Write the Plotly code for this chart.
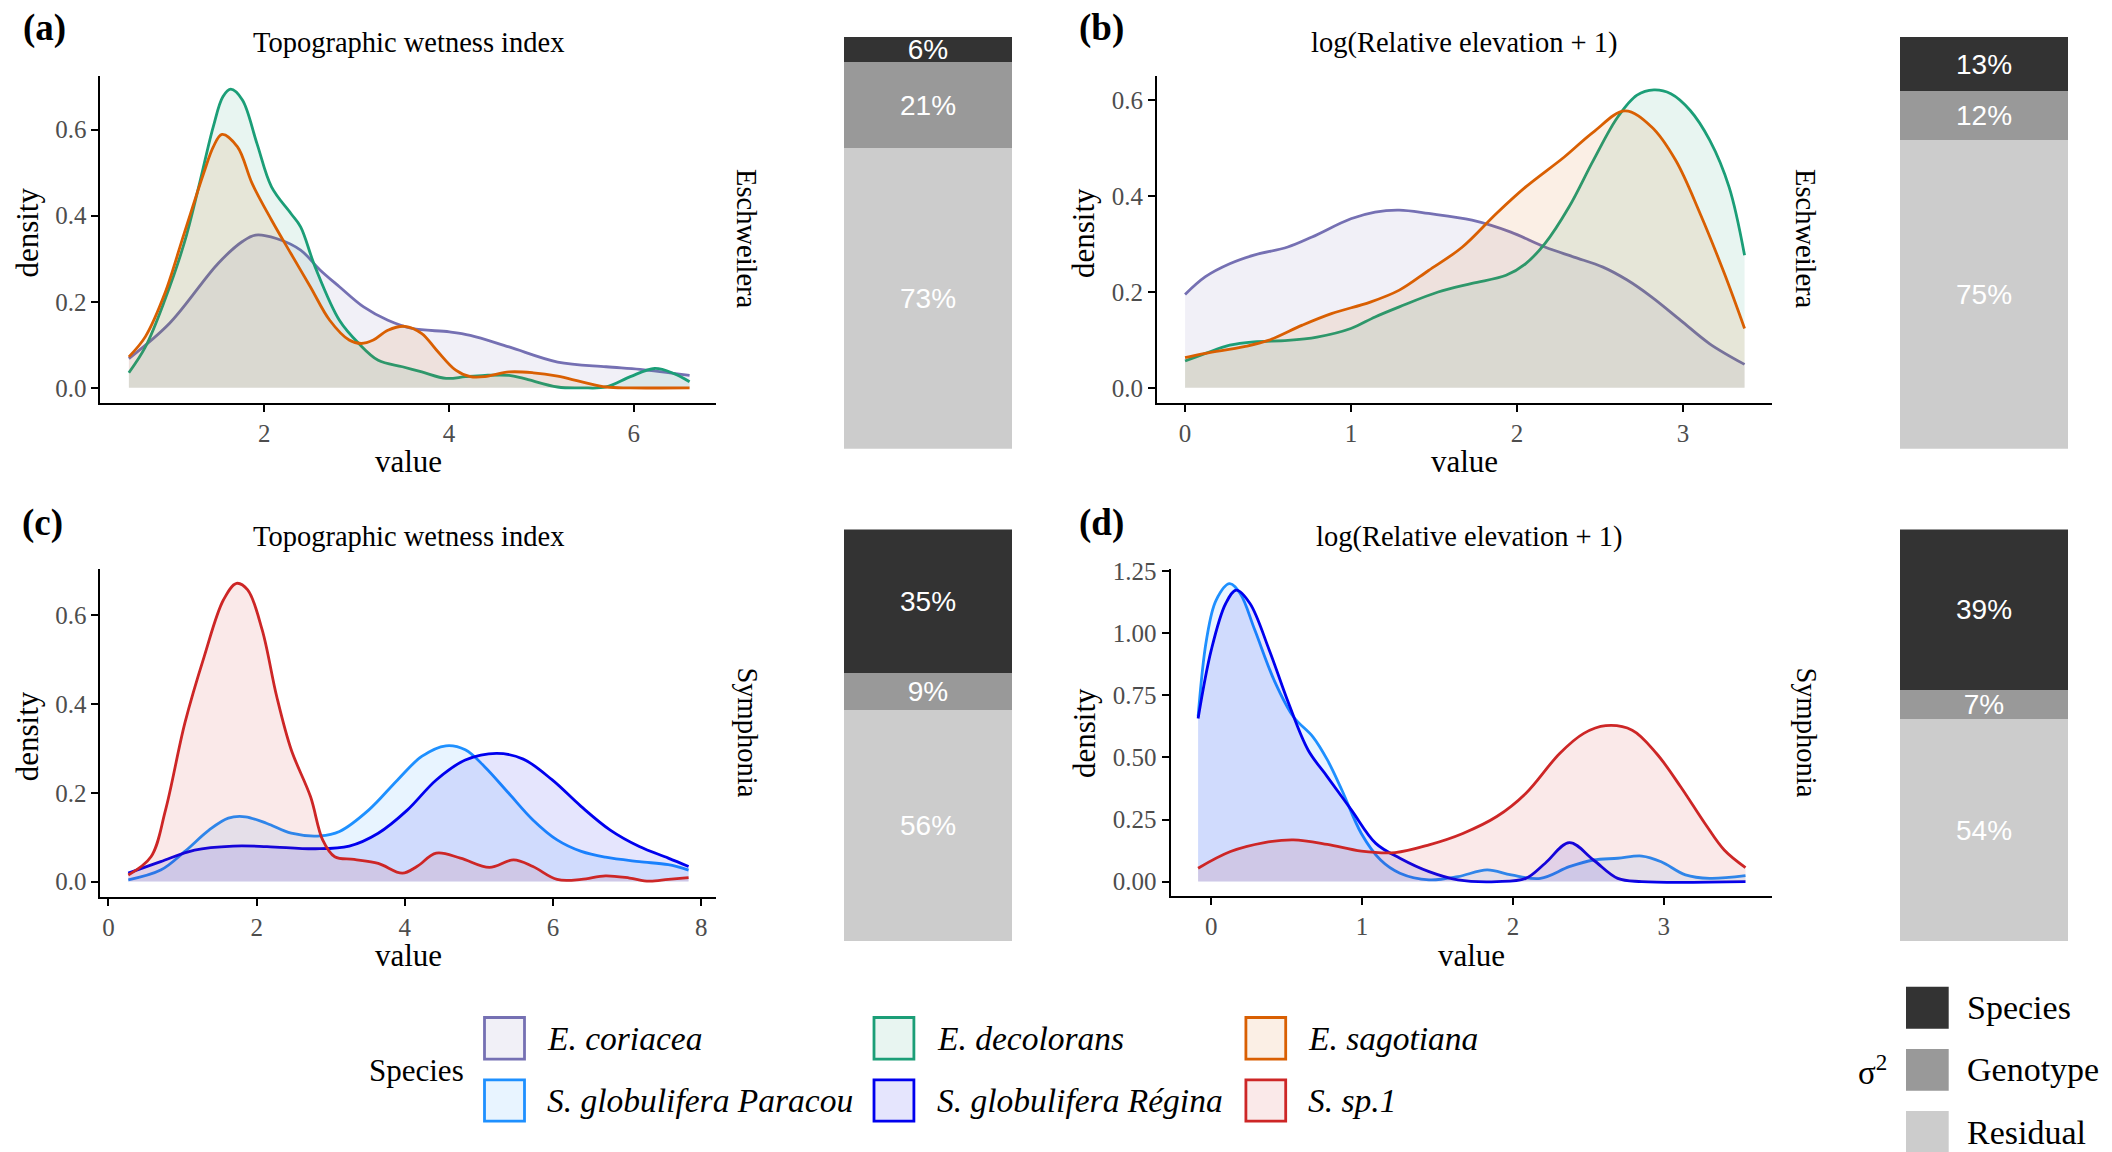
import plotly.graph_objects as go

W, H = 2112, 1152

# ---------------- data ----------------
species_names = ["E. coriacea", "E. decolorans", "E. sagotiana",
                 "S. globulifera Paracou", "S. globulifera Régina", "S. sp.1"]
species_colors = ["#7570B3", "#1B9E77", "#D95F02", "#1E90FF", "#0000EE", "#CD2626"]

panel_titles = ["Topographic wetness index", "log(Relative elevation + 1)",
                "Topographic wetness index", "log(Relative elevation + 1)"]
panel_tags = ["(a)", "(b)", "(c)", "(d)"]
genus_labels = ["Eschweilera", "Eschweilera", "Symphonia", "Symphonia"]

# (a) Eschweilera - TWI
a_coriacea_x = [0.535, 0.976, 1.501, 1.764, 1.906, 2.131, 2.394, 2.604, 2.814, 3.076, 3.339, 3.601,
                4.005, 4.231, 4.651, 5.176, 5.701, 6.068, 6.604]
a_coriacea_y = [0.068, 0.150, 0.289, 0.340, 0.355, 0.347, 0.320, 0.274, 0.235, 0.188, 0.157, 0.138,
                0.130, 0.122, 0.095, 0.060, 0.049, 0.043, 0.029]
a_decolorans_x = [0.535, 0.714, 0.924, 1.134, 1.291, 1.449, 1.554, 1.638, 1.764, 1.921, 2.079, 2.289,
                  2.394, 2.551, 2.814, 3.024, 3.234, 3.496, 3.706, 3.969, 4.178, 4.388, 4.651, 4.808,
                  5.176, 5.438, 5.701, 5.963, 6.226, 6.436, 6.604]
a_decolorans_y = [0.035, 0.095, 0.204, 0.336, 0.467, 0.607, 0.677, 0.694, 0.669, 0.568, 0.467, 0.405,
                  0.374, 0.281, 0.157, 0.103, 0.064, 0.049, 0.037, 0.022, 0.026, 0.029, 0.029, 0.022,
                  0.002, 0.000, 0.002, 0.026, 0.045, 0.033, 0.014]
a_sagotiana_x = [0.535, 0.714, 0.924, 1.134, 1.344, 1.449, 1.543, 1.711, 1.869, 2.079, 2.289, 2.499,
                 2.709, 2.919, 3.050, 3.181, 3.339, 3.522, 3.706, 3.864, 4.073, 4.231, 4.388, 4.651,
                 4.913, 5.176, 5.438, 5.701, 5.963, 6.604]
a_sagotiana_y = [0.072, 0.119, 0.219, 0.359, 0.498, 0.560, 0.589, 0.560, 0.475, 0.390, 0.312, 0.235,
                 0.157, 0.111, 0.103, 0.111, 0.134, 0.143, 0.126, 0.088, 0.041, 0.026, 0.026, 0.037,
                 0.035, 0.027, 0.014, 0.002, 0.000, 0.000]

# (b) Eschweilera - log(Relative elevation + 1)
b_coriacea_x = [0.0, 0.123, 0.269, 0.415, 0.619, 0.765, 0.999, 1.145, 1.291, 1.467, 1.729, 1.963,
                2.168, 2.343, 2.518, 2.664, 2.810, 2.986, 3.161, 3.371]
b_coriacea_y = [0.195, 0.232, 0.259, 0.277, 0.294, 0.315, 0.353, 0.367, 0.371, 0.364, 0.350, 0.325,
                0.294, 0.273, 0.252, 0.225, 0.190, 0.141, 0.092, 0.049]
b_decolorans_x = [0.0, 0.123, 0.269, 0.415, 0.619, 0.795, 0.999, 1.145, 1.291, 1.525, 1.729, 1.934,
                  2.051, 2.168, 2.314, 2.460, 2.606, 2.723, 2.825, 2.927, 3.044, 3.161, 3.278, 3.371]
b_decolorans_y = [0.056, 0.072, 0.089, 0.096, 0.099, 0.106, 0.124, 0.148, 0.169, 0.200, 0.218, 0.235,
                  0.259, 0.301, 0.378, 0.475, 0.565, 0.611, 0.622, 0.614, 0.579, 0.517, 0.419, 0.277]
b_sagotiana_x = [0.0, 0.123, 0.356, 0.502, 0.707, 0.882, 1.116, 1.291, 1.467, 1.671, 1.876, 2.051,
                 2.285, 2.460, 2.650, 2.810, 2.956, 3.103, 3.249, 3.371]
b_sagotiana_y = [0.063, 0.072, 0.086, 0.099, 0.131, 0.155, 0.179, 0.204, 0.245, 0.294, 0.364, 0.419,
                 0.482, 0.534, 0.578, 0.545, 0.475, 0.364, 0.239, 0.124]

# (c) Symphonia - TWI
c_paracou_x = [0.268, 0.705, 1.031, 1.357, 1.618, 1.847, 2.140, 2.467, 2.858, 3.119, 3.511, 3.902,
               4.228, 4.555, 4.816, 5.077, 5.403, 5.729, 6.055, 6.382, 6.708, 7.165, 7.556, 7.830]
c_paracou_y = [0.004, 0.026, 0.068, 0.116, 0.143, 0.146, 0.131, 0.109, 0.103, 0.113, 0.161, 0.229,
               0.282, 0.306, 0.297, 0.259, 0.199, 0.139, 0.094, 0.068, 0.055, 0.045, 0.038, 0.026]
c_regina_x = [0.268, 0.705, 1.162, 1.684, 2.140, 2.793, 3.250, 3.641, 4.033, 4.424, 4.816, 5.240,
              5.599, 5.990, 6.382, 6.773, 7.165, 7.556, 7.830]
c_regina_y = [0.019, 0.045, 0.071, 0.080, 0.079, 0.074, 0.080, 0.109, 0.161, 0.229, 0.274, 0.289,
              0.276, 0.229, 0.169, 0.116, 0.079, 0.053, 0.034]
c_sp1_x = [0.268, 0.574, 0.770, 1.031, 1.292, 1.553, 1.729, 1.879, 2.075, 2.271, 2.467, 2.728,
           2.891, 3.054, 3.315, 3.641, 3.967, 4.163, 4.424, 4.750, 5.142, 5.468, 5.729, 6.055,
           6.382, 6.708, 7.034, 7.295, 7.556, 7.830]
c_sp1_y = [0.015, 0.056, 0.161, 0.357, 0.507, 0.635, 0.672, 0.657, 0.567, 0.417, 0.297, 0.191,
           0.094, 0.056, 0.050, 0.041, 0.019, 0.034, 0.064, 0.053, 0.032, 0.049, 0.034, 0.005,
           0.005, 0.013, 0.008, 0.001, 0.005, 0.009]

# (d) Symphonia - log(Relative elevation + 1)
d_paracou_x = [-0.087, -0.032, 0.032, 0.122, 0.192, 0.289, 0.417, 0.545, 0.674, 0.770, 0.866, 0.995,
               1.123, 1.251, 1.444, 1.636, 1.829, 1.989, 2.182, 2.374, 2.534, 2.695, 2.855, 2.983,
               3.144, 3.304, 3.542]
d_paracou_y = [0.664, 0.972, 1.133, 1.200, 1.160, 1.013, 0.811, 0.664, 0.583, 0.490, 0.369, 0.194,
               0.087, 0.034, 0.007, 0.020, 0.047, 0.027, 0.013, 0.060, 0.087, 0.094, 0.103, 0.080,
               0.027, 0.013, 0.024]
d_regina_x = [-0.087, 0.0, 0.096, 0.167, 0.257, 0.385, 0.513, 0.642, 0.770, 0.930, 1.091, 1.251,
              1.444, 1.636, 1.893, 2.085, 2.214, 2.374, 2.534, 2.695, 2.855, 3.542]
d_regina_y = [0.657, 0.932, 1.120, 1.174, 1.120, 0.932, 0.718, 0.530, 0.422, 0.288, 0.154, 0.094,
              0.040, 0.007, 0.000, 0.013, 0.074, 0.157, 0.087, 0.013, 0.000, 0.000]
d_sp1_x = [-0.087, 0.128, 0.353, 0.545, 0.770, 0.995, 1.219, 1.444, 1.668, 1.893, 2.085, 2.310,
           2.470, 2.615, 2.791, 2.952, 3.112, 3.272, 3.401, 3.542]
d_sp1_y = [0.054, 0.121, 0.157, 0.168, 0.150, 0.123, 0.117, 0.148, 0.194, 0.262, 0.355, 0.516,
           0.597, 0.628, 0.610, 0.516, 0.382, 0.235, 0.127, 0.056]

# variance partition (percent) per panel a, b, c, d
variance_components = ["Species", "Genotype", "Residual"]
variance_colors = ["#333333", "#999999", "#CCCCCC"]
species_pct = [6, 13, 35, 39]
genotype_pct = [21, 12, 9, 7]
residual_pct = [73, 75, 56, 54]

# axis ticks
a_xticks = [2, 4, 6]
b_xticks = [0, 1, 2, 3]
c_xticks = [0, 2, 4, 6, 8]
d_xticks = [0, 1, 2, 3]
ab_c_yticks = [0.0, 0.2, 0.4, 0.6]
d_yticks = [0.0, 0.25, 0.5, 0.75, 1.0, 1.25]

# ---------------- layout helpers ----------------
def px(x):
    return x / W

def py(y):
    return 1 - y / H

SERIF = "Liberation Serif, Times New Roman, serif"
SANS = "Liberation Sans, Arial, sans-serif"

def rgba(hexc, a):
    h = hexc.lstrip("#")
    r, g, b = int(h[0:2], 16), int(h[2:4], 16), int(h[4:6], 16)
    return f"rgba({r},{g},{b},{a})"

fig = go.Figure()

panels = [
    ("x", "y", [(a_coriacea_x, a_coriacea_y, 0), (a_decolorans_x, a_decolorans_y, 1), (a_sagotiana_x, a_sagotiana_y, 2)]),
    ("x2", "y2", [(b_coriacea_x, b_coriacea_y, 0), (b_decolorans_x, b_decolorans_y, 1), (b_sagotiana_x, b_sagotiana_y, 2)]),
    ("x3", "y3", [(c_paracou_x, c_paracou_y, 3), (c_regina_x, c_regina_y, 4), (c_sp1_x, c_sp1_y, 5)]),
    ("x4", "y4", [(d_paracou_x, d_paracou_y, 3), (d_regina_x, d_regina_y, 4), (d_sp1_x, d_sp1_y, 5)]),
]

for xa, ya, series in panels:
    for xs, ys, si in series:
        fig.add_trace(go.Scatter(
            x=xs, y=ys, xaxis=xa, yaxis=ya, mode="lines",
            line=dict(color=species_colors[si], width=2.8, shape="spline", smoothing=1.0),
            fill="tozeroy", fillcolor=rgba(species_colors[si], 0.1),
            name=species_names[si], showlegend=False, hoverinfo="skip"))

# variance bars
bar_axes = [("x5", "y5"), ("x6", "y6"), ("x7", "y7"), ("x8", "y8")]
for i, (xa, ya) in enumerate(bar_axes):
    vals = [residual_pct[i], genotype_pct[i], species_pct[i]]
    cols = [variance_colors[2], variance_colors[1], variance_colors[0]]
    comps = [variance_components[2], variance_components[1], variance_components[0]]
    for v, c, comp in zip(vals, cols, comps):
        fig.add_trace(go.Bar(
            x=[0], y=[v], xaxis=xa, yaxis=ya, marker=dict(color=c, line=dict(width=0)),
            text=[f"{v}%"], textposition="inside", insidetextanchor="middle", textangle=0,
            textfont=dict(family=SANS, size=28, color="white"),
            name=comp, showlegend=False, hoverinfo="skip", width=1.0))

axis_common = dict(showgrid=False, zeroline=False, showline=True, linecolor="black", linewidth=1.8,
                   ticks="outside", ticklen=7, tickwidth=1.8, tickcolor="black", automargin=False,
                   tickfont=dict(family=SERIF, size=25, color="#4D4D4D"))

# panel geometry (pixels)
geo = {
    "a": dict(x0=100.3, x1=716.0, y0=76.0, y1=402.7, xr=[0.226, 6.89], yr=[-0.0345, 0.7245], xt=a_xticks, yt=ab_c_yticks, yf=".1f"),
    "b": dict(x0=1157.0, x1=1771.6, y0=76.0, y1=402.7, xr=[-0.169, 3.534], yr=[-0.031, 0.651], xt=b_xticks, yt=ab_c_yticks, yf=".1f"),
    "c": dict(x0=100.3, x1=716.0, y0=569.3, y1=896.7, xr=[-0.110, 8.20], yr=[-0.034, 0.7036], xt=c_xticks, yt=ab_c_yticks, yf=".1f"),
    "d": dict(x0=1170.5, x1=1771.6, y0=569.3, y1=896.0, xr=[-0.27, 3.715], yr=[-0.058, 1.2577], xt=d_xticks, yt=d_yticks, yf=".2f"),
}
layout_axes = {}
for k, (key, g) in enumerate(geo.items()):
    n = "" if k == 0 else str(k + 1)
    layout_axes["xaxis" + n] = dict(axis_common, domain=[px(g["x0"]), px(g["x1"])], range=g["xr"],
                                    tickvals=g["xt"], anchor="y" + n)
    layout_axes["yaxis" + n] = dict(axis_common, domain=[py(g["y1"]), py(g["y0"])], range=g["yr"],
                                    tickvals=g["yt"], tickformat=g["yf"], anchor="x" + n)

bar_geo = [(844, 1012, 37.0, 448.7), (1900, 2068, 37.0, 448.7),
           (844, 1012, 529.4, 941.6), (1900, 2068, 529.4, 941.6)]
for i, (x0, x1, y0, y1) in enumerate(bar_geo):
    n = str(i + 5)
    layout_axes["xaxis" + n] = dict(domain=[px(x0), px(x1)], range=[-0.5, 0.5], visible=False,
                                    anchor="y" + n, automargin=False)
    layout_axes["yaxis" + n] = dict(domain=[py(y1), py(y0)], range=[0, 100], visible=False,
                                    anchor="x" + n, automargin=False)

annotations = []
def ann(text, x, y, size, family=SERIF, color="black", angle=0, xanchor="center", yanchor="middle"):
    annotations.append(dict(text=text, x=px(x), y=py(y), xref="paper", yref="paper", showarrow=False,
                            font=dict(family=family, size=size, color=color), textangle=angle,
                            xanchor=xanchor, yanchor=yanchor))

title_pos = [(408.6, 42.7), (1464.7, 42.7), (408.6, 536.7), (1469.6, 536.7)]
tag_pos = [(44, 28), (1101, 28), (42, 523), (1101, 523)]
value_pos = [(408.6, 461.7), (1464.7, 461.7), (408.6, 955), (1471, 955)]
density_pos = [(27.6, 233), (1084, 233), (27.6, 736.7), (1084, 733)]
strip_pos = [(747, 239), (1806, 239), (747, 732.5), (1806, 732.5)]
for i in range(4):
    ann(panel_titles[i], *title_pos[i], 28.5)
    ann(f"<b>{panel_tags[i]}</b>", *tag_pos[i], 37)
    ann("value", *value_pos[i], 31)
    ann("density", *density_pos[i], 31, angle=-90)
    ann(genus_labels[i], *strip_pos[i], 28.5, angle=90)

# species legend (manual keys)
shapes = []
ann("Species", 416, 1070, 31)
key_cols = [(483, 526, 545), (872.5, 915.4, 935.3), (1244.4, 1287.2, 1305.6)]
key_rows = [(1016, 1060.7), (1078.3, 1122.7)]
for si, name in enumerate(species_names):
    r, c = divmod(si, 3)
    x0, x1, tx = key_cols[c]
    y0, y1 = key_rows[r]
    shapes.append(dict(type="rect", xref="paper", yref="paper", x0=px(x0 + 1.5), x1=px(x1 - 1.5),
                       y0=py(y1 - 1.5), y1=py(y0 + 1.5), line=dict(color=species_colors[si], width=2.8),
                       fillcolor=rgba(species_colors[si], 0.1)))
    ann(f"<i>{name}</i>", tx, (y0 + y1) / 2, 33.5, xanchor="left")

# variance legend
ann("σ<sup>2</sup>", 1872, 1070, 33)
var_rows = [(986.7, 1028.7), (1049, 1090.7), (1111, 1153)]
for vi, comp in enumerate(variance_components):
    y0, y1 = var_rows[vi]
    shapes.append(dict(type="rect", xref="paper", yref="paper", x0=px(1906), x1=px(1948.7),
                       y0=py(y1), y1=py(y0), line=dict(width=0), fillcolor=variance_colors[vi]))
    ann(comp, 1965.0, (y0 + y1) / 2, 34, xanchor="left")

fig.update_layout(
    width=W, height=H, margin=dict(l=0, r=0, t=0, b=0, pad=0, autoexpand=False),
    paper_bgcolor="white", plot_bgcolor="white",
    barmode="stack", bargap=0,
    uniformtext=dict(mode="show", minsize=28),
    annotations=annotations, shapes=shapes,
    font=dict(family=SERIF),
    showlegend=False,
    **layout_axes,
)

fig.write_html("out.html", config={"displayModeBar": False},
               post_script="document.body.style.margin='0';")
